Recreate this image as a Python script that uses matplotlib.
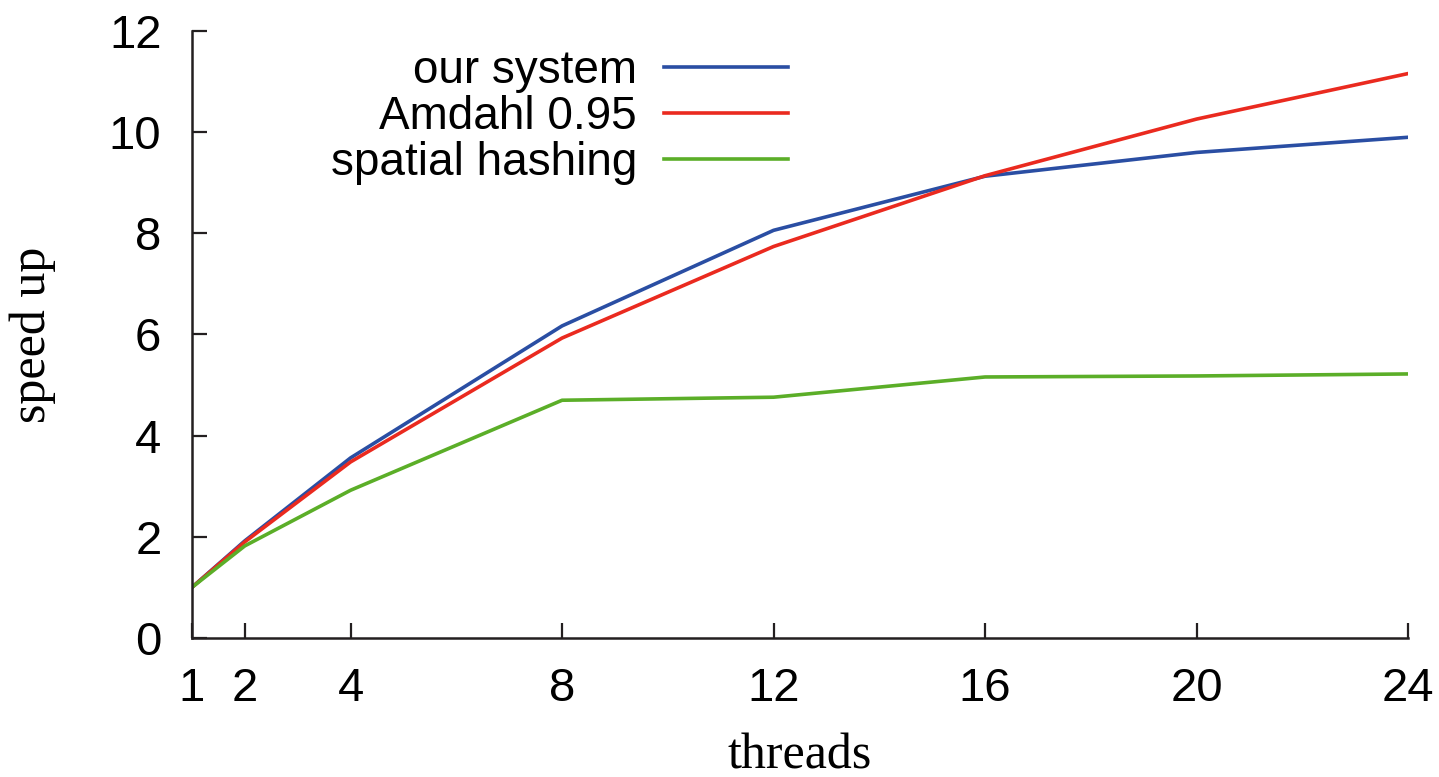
import matplotlib
matplotlib.use('Agg')
import matplotlib.pyplot as plt

threads = [1, 2, 4, 8, 12, 16, 20, 24]
our_system = [1.0, 1.92, 3.56, 6.17, 8.06, 9.13, 9.60, 9.90]
amdahl_095 = [1.0, 1.90, 3.48, 5.93, 7.74, 9.14, 10.26, 11.16]
spatial_hashing = [1.0, 1.82, 2.92, 4.70, 4.76, 5.16, 5.18, 5.22]

xticks = [1, 2, 4, 8, 12, 16, 20, 24]
yticks = [0, 2, 4, 6, 8, 10, 12]

axis_col = '#231f20'

fig = plt.figure(figsize=(14.39, 7.77), dpi=100)
ax = fig.add_axes([0.1334, 0.179, 0.8451, 0.781])

ax.plot(threads, our_system, color='#2a4ea3', lw=2.6, label='our system')
ax.plot(threads, amdahl_095, color='#ea2a1f', lw=2.6, label='Amdahl 0.95')
ax.plot(threads, spatial_hashing, color='#5bae28', lw=2.6, label='spatial hashing')

ax.set_xlim(1, 24)
ax.set_ylim(0, 12)
ax.set_xticks(xticks)
ax.set_yticks(yticks)
ax.set_xticklabels([str(t) for t in xticks], fontname='Liberation Sans', fontsize=34)
ax.set_yticklabels([str(t) for t in yticks], fontname='Liberation Sans', fontsize=34)

for s in ['top', 'right']:
    ax.spines[s].set_visible(False)
for s in ['left', 'bottom']:
    ax.spines[s].set_color(axis_col)
    ax.spines[s].set_linewidth(1.8)
ax.tick_params(direction='in', length=11, width=1.6, color=axis_col)
ax.tick_params(axis='x', pad=21)
ax.tick_params(axis='y', pad=22)

ax.set_xlabel('threads', fontname='Liberation Serif', fontsize=36, labelpad=16)
ax.set_ylabel('speed up', fontname='Liberation Serif', fontsize=36, labelpad=38)

leg = ax.legend(loc='upper left', bbox_to_anchor=(0.08, 1.038), markerfirst=False,
                frameon=False, handlelength=2.7, handletextpad=0.6,
                labelspacing=0.04, prop={'family': 'Liberation Sans', 'size': 33})
for t in leg.get_texts():
    t.set_ha('right')

fig.savefig('out.png', dpi=100, facecolor='white')
